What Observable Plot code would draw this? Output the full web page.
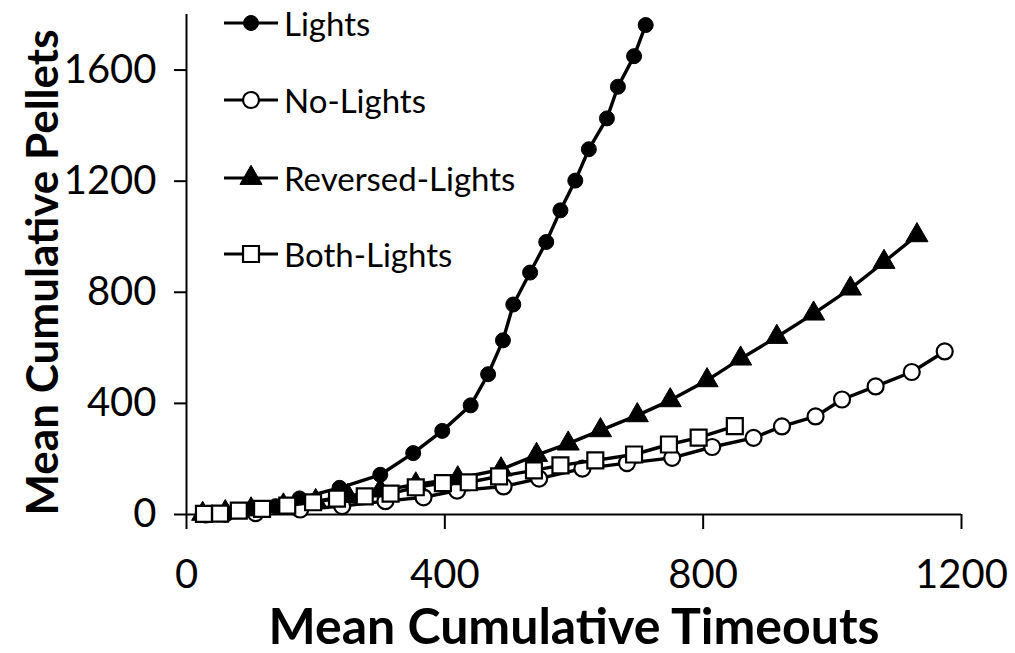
<!DOCTYPE html>
<html>
<head>
<meta charset="utf-8">
<script src="https://cdn.jsdelivr.net/npm/d3@7"></script>
<script src="https://cdn.jsdelivr.net/npm/@observablehq/plot@0.6"></script>
<style>
  html, body { margin: 0; padding: 0; background: #fff; }
  #wrap { position: relative; width: 1015px; height: 653px; font-family: Lato, "Open Sans", sans-serif; }
  #legend { position: absolute; left: 222px; top: 0; }
  .row { position: absolute; left: 0; height: 30px; display: flex; align-items: center; white-space: nowrap; font-size: 33px; color: #000; }
  .row svg { display: block; margin-right: 4px; }
</style>
</head>
<body>
<div id="wrap"><div id="legend"></div></div>
<script>
// ---- data ----
const seriesNames = ["Lights", "No-Lights", "Reversed-Lights", "Both-Lights"];

const lightsX = [25, 60, 107, 138, 175, 237, 300, 351, 396, 440, 467, 490, 506, 532, 557, 579, 602, 623, 651, 668, 693, 711];
const lightsY = [1, 5, 15, 30, 58, 96, 143, 221, 301, 393, 505, 627, 756, 871, 981, 1095, 1202, 1315, 1426, 1540, 1650, 1762];

const noLightsX = [30, 60, 107, 176, 241, 308, 367, 419, 491, 546, 613, 682, 752, 814, 878, 922, 974, 1015, 1067, 1123, 1174];
const noLightsY = [0, 3, 5, 18, 30, 48, 62, 86, 101, 129, 165, 185, 204, 243, 276, 317, 353, 414, 461, 513, 587];

const reversedX = [25, 60, 100, 150, 200, 250, 300, 355, 420, 487, 542, 591, 641, 698, 749, 806, 858, 914, 971, 1028, 1080, 1131];
const reversedY = [2, 8, 18, 32, 48, 66, 86, 108, 130, 162, 214, 255, 303, 357, 411, 483, 561, 639, 723, 813, 909, 1005];

const bothX = [27, 52, 81, 117, 156, 196, 233, 276, 316, 355, 397, 437, 484, 538, 579, 633, 693, 747, 793, 849];
const bothY = [2, 3, 14, 20, 32, 44, 57, 65, 75, 98, 113, 116, 137, 159, 177, 195, 216, 252, 277, 318];

const xTicks = [0, 400, 800, 1200];
const yTicks = [0, 400, 800, 1200, 1600];
const xTitle = "Mean Cumulative Timeouts";
const yTitle = "Mean Cumulative Pellets";

// ---- build tables ----
const toRows = (xs, ys) => xs.map((x, i) => ({x, y: ys[i]}));
const lights = toRows(lightsX, lightsY);
const noLights = toRows(noLightsX, noLightsY);
const reversed = toRows(reversedX, reversedY);
const both = toRows(bothX, bothY);

const styles = [
  {symbol: "circle", fill: "black", stroke: "black", strokeWidth: 1, r: 7.5},
  {symbol: "circle", fill: "white", stroke: "black", strokeWidth: 2.2, r: 8},
  {symbol: "triangle", fill: "black", stroke: "black", strokeWidth: 1, r: 8.2},
  {symbol: "square", fill: "white", stroke: "black", strokeWidth: 2.2, r: 9}
];
const tables = [lights, noLights, reversed, both];

const seriesMarks = tables.flatMap((t, i) => [
  Plot.line(t, {x: "x", y: "y", stroke: "black", strokeWidth: 3.4}),
  Plot.dot(t, {x: "x", y: "y", ...styles[i]})
]);

const chart = Plot.plot({
  width: 1015,
  height: 653,
  marginLeft: 186,
  marginRight: 54,
  marginTop: 14,
  marginBottom: 139,
  style: {fontFamily: "Lato, 'Open Sans', sans-serif", color: "black", background: "white", overflow: "visible"},
  x: {domain: [0, 1200]},
  y: {domain: [0, 1800]},
  marks: [
    Plot.axisX({ticks: xTicks, tickSize: 15, tickPadding: 30, fontSize: 40, label: null, strokeWidth: 2, tickFormat: d => String(d)}),
    Plot.axisY({ticks: yTicks, tickSize: 12, tickPadding: 18, fontSize: 40, label: null, strokeWidth: 2, tickFormat: d => String(d)}),
    Plot.ruleY([0], {stroke: "black", strokeWidth: 2}),
    Plot.ruleX([0], {stroke: "black", strokeWidth: 2}),
    ...seriesMarks,
    Plot.text([xTitle], {frameAnchor: "bottom", textAnchor: "middle", dy: 129, fontSize: 50, fontWeight: "bold", fill: "black"}),
    Plot.text([yTitle], {frameAnchor: "left", textAnchor: "middle", rotate: -90, dx: -143, dy: 8, fontSize: 44, fontWeight: "bold", fill: "black"})
  ]
});
document.getElementById("wrap").prepend(chart);

// ---- legend (HTML overlay) ----
const legend = document.getElementById("legend");
const rowTops = [23, 100, 178, 254];
seriesNames.forEach((name, i) => {
  const row = document.createElement("div");
  row.className = "row";
  row.style.top = (rowTops[i] - 15) + "px";
  const s = styles[i];
  const sym = {circle: d3.symbolCircle, triangle: d3.symbolTriangle, square: d3.symbolSquare}[s.symbol];
  const svg = d3.create("svg").attr("width", 58).attr("height", 30);
  svg.append("line").attr("x1", 2).attr("x2", 56).attr("y1", 15).attr("y2", 15).attr("stroke", "black").attr("stroke-width", 3);
  svg.append("path").attr("transform", "translate(29,15)")
    .attr("d", d3.symbol(sym, s.r * s.r * Math.PI)())
    .attr("fill", s.fill).attr("stroke", s.stroke).attr("stroke-width", s.strokeWidth);
  row.appendChild(svg.node());
  const span = document.createElement("span");
  span.textContent = name;
  row.appendChild(span);
  legend.appendChild(row);
});
</script>
</body>
</html>
